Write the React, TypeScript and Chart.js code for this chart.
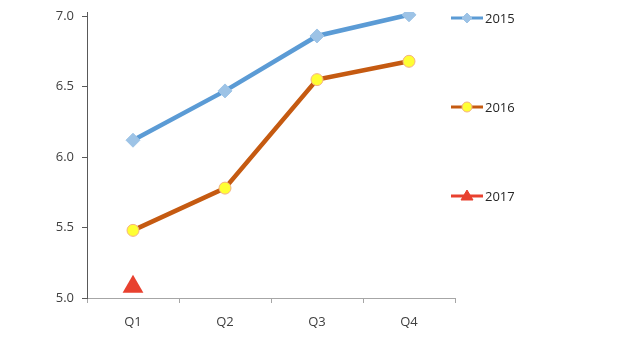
import React, { useEffect, useRef } from "react";
import { Chart, registerables } from "chart.js";

Chart.register(...registerables);

const categories = ["Q1", "Q2", "Q3", "Q4"];
const series2015 = [6.12, 6.47, 6.86, 7.01];
const series2016 = [5.48, 5.78, 6.55, 6.68];
const series2017 = [5.08, null, null, null];
const yTicks = [5.0, 5.5, 6.0, 6.5, 7.0];
const seriesNames = ["2015", "2016", "2017"];

const FONT = "'Open Sans', 'Noto Sans', sans-serif";

const sideLegend = {
  id: "sideLegend",
  afterDraw(chart: any) {
    const ctx = chart.ctx;
    const x0 = chart.chartArea.right - 4;
    const ys = [18, 107, 196];
    chart.data.datasets.forEach((ds: any, i: number) => {
      const y = ys[i];
      ctx.save();
      ctx.strokeStyle = ds.borderColor;
      ctx.lineWidth = 3;
      ctx.beginPath();
      ctx.moveTo(x0, y);
      ctx.lineTo(x0 + 32, y);
      ctx.stroke();
      const style = ds.pointStyle;
      ctx.fillStyle = ds.pointBackgroundColor;
      ctx.strokeStyle = ds.pointBorderColor;
      ctx.lineWidth = 1;
      const cx = x0 + 16;
      ctx.beginPath();
      if (style === "rectRot") {
        const r = 5;
        ctx.moveTo(cx, y - r);
        ctx.lineTo(cx + r, y);
        ctx.lineTo(cx, y + r);
        ctx.lineTo(cx - r, y);
        ctx.closePath();
      } else if (style === "circle") {
        ctx.arc(cx, y, 5, 0, Math.PI * 2);
      } else {
        ctx.moveTo(cx, y - 6);
        ctx.lineTo(cx + 6, y + 4);
        ctx.lineTo(cx - 6, y + 4);
        ctx.closePath();
      }
      ctx.fill();
      ctx.stroke();
      ctx.fillStyle = "#262626";
      ctx.font = "13px " + FONT;
      ctx.textBaseline = "middle";
      ctx.textAlign = "left";
      ctx.fillText(ds.label, x0 + 34, y + 1);
      ctx.restore();
    });
  },
};

export default function App() {
  const ref = useRef<HTMLCanvasElement>(null);
  useEffect(() => {
    document.body.style.margin = "0";
    const chart = new Chart(ref.current!, {
      type: "line",
      data: {
        labels: categories,
        datasets: [
          {
            label: seriesNames[0],
            data: series2015,
            borderColor: "#5B9BD5",
            borderWidth: 4.5,
            pointStyle: "rectRot",
            pointRadius: 7,
            pointBackgroundColor: "#9DC3E6",
            pointBorderColor: "#9DC3E6",
            pointBorderWidth: 1,
          },
          {
            label: seriesNames[1],
            data: series2016,
            borderColor: "#C55A11",
            borderWidth: 4.5,
            pointStyle: "circle",
            pointRadius: 6,
            pointBackgroundColor: "#FFFF33",
            pointBorderColor: "#F4B183",
            pointBorderWidth: 1,
          },
          {
            label: seriesNames[2],
            data: series2017,
            borderColor: "#E8412F",
            borderWidth: 3,
            pointStyle: "triangle",
            pointRadius: 12,
            pointBackgroundColor: "#E8412F",
            pointBorderColor: "#E8412F",
            pointBorderWidth: 0,
          },
        ],
      },
      options: {
        animation: false,
        responsive: false,
        layout: { padding: { left: 0, right: 166, top: 11, bottom: 0 } },
        plugins: { legend: { display: false }, tooltip: { enabled: false } },
        scales: {
          x: {
            offset: true,
            grid: {
              offset: true,
              drawOnChartArea: false,
              drawTicks: true,
              tickLength: 5,
              color: "#A6A6A6",
            },
            border: { color: "#A6A6A6", width: 1 },
            ticks: { color: "#404040", font: { family: FONT, size: 13 }, padding: 11 },
            afterFit: (s: any) => {
              s.height = 44;
              s.paddingLeft = 0;
              s.paddingRight = 0;
            },
          },
          y: {
            min: 5,
            max: 7.03,
            afterBuildTicks: (s: any) => {
              s.ticks = yTicks.map((v) => ({ value: v }));
            },
            grid: {
              drawOnChartArea: false,
              drawTicks: true,
              tickLength: 5,
              color: "#595959",
            },
            border: { color: "#595959", width: 1 },
            ticks: {
              color: "#404040",
              font: { family: FONT, size: 13 },
              padding: 8,
              callback: (v: any) => Number(v).toFixed(1),
            },
            afterFit: (s: any) => {
              s.width = 87;
              s.paddingTop = 0;
              s.paddingBottom = 0;
            },
          },
        },
      },
      plugins: [sideLegend],
    });
    return () => chart.destroy();
  }, []);
  return (
    <div style={{ width: 621, height: 342 }}>
      <canvas ref={ref} width={621} height={342} />
    </div>
  );
}
